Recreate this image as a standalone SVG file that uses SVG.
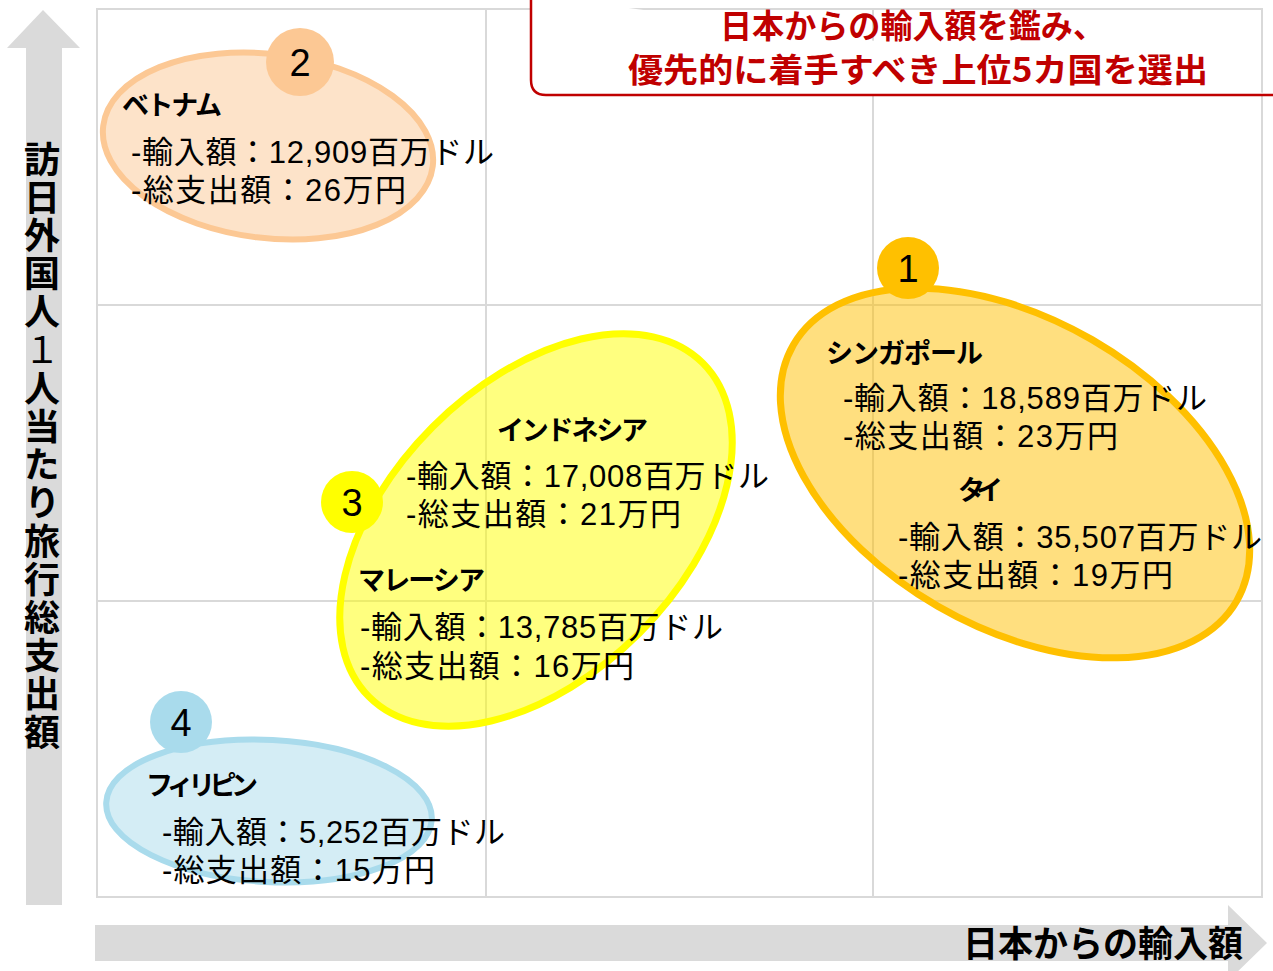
<svg xmlns="http://www.w3.org/2000/svg" width="1273" height="971" viewBox="0 0 1273 971">
<style>
.grid{fill:none;stroke:#d9d9d9;stroke-width:2}
.axis{fill:#dadada}
.jp{font-family:"Liberation Sans","Noto Sans CJK JP",sans-serif;fill:#000}
.ttl{font-family:"Noto Sans CJK JP",sans-serif;font-weight:bold;font-size:27px;fill:#000}
.ln{font-size:31px}
.num{font-family:"Liberation Sans","Noto Sans CJK JP",sans-serif;font-size:38px;fill:#000;text-anchor:middle}
.axl{font-family:"Noto Sans CJK JP",sans-serif;font-weight:bold;font-size:36px;fill:#000}
.head{font-family:"Noto Sans CJK JP",sans-serif;font-weight:bold;font-size:33px;fill:#c00000}
</style>
<rect width="1273" height="971" fill="#fff"/>
<g id="grid">
<rect class="grid" x="97" y="9" width="1165" height="888"/>
<line class="grid" x1="486" y1="9" x2="486" y2="897"/>
<line class="grid" x1="873" y1="9" x2="873" y2="897"/>
<line class="grid" x1="97" y1="305" x2="1262" y2="305"/>
<line class="grid" x1="97" y1="601" x2="1262" y2="601"/>
</g>
<g id="y-axis">
<path class="axis" d="M26 905 V48 H7 L43 10 L80 48 H62 V905 Z"/>
<text class="axl" x="42" y="141" writing-mode="tb" letter-spacing="2.2" style="writing-mode:vertical-rl">訪日外国人<tspan font-weight="normal">１</tspan>人当たり旅行総支出額</text>
</g>
<g id="x-axis">
<path class="axis" d="M95 925 H1228 V905 L1267 943 L1228 981 V961 H95 Z"/>
<text class="axl" x="963" y="957" textLength="280" lengthAdjust="spacingAndGlyphs">日本からの輸入額</text>
</g>
<g id="headline">
<path d="M531 -5 V80 Q531 95 546 95 H1280" fill="#fff" stroke="#c00000" stroke-width="2.5"/>
<text class="head" x="720" y="38" textLength="385" lengthAdjust="spacingAndGlyphs">日本からの輸入額を鑑み、</text>
<text class="head" x="628" y="82" textLength="580" lengthAdjust="spacingAndGlyphs">優先的に着手すべき上位5カ国を選出</text>
</g>
<g id="group-vietnam">
<ellipse cx="268" cy="146" rx="166" ry="92" transform="rotate(7 268 146)" fill="#fcc894" fill-opacity="0.5" stroke="#fcc894" stroke-width="6"/>
<text class="ttl" x="122" y="115" textLength="100">ベトナム</text>
<text class="jp ln" x="131" y="163" textLength="363">-輸入額：12,909百万ドル</text>
<text class="jp ln" x="131" y="201" textLength="275">-総支出額：26万円</text>
<circle cx="300" cy="62" r="34" fill="#fcc894"/>
<text class="num" x="300" y="76">2</text>
</g>
<g id="group-singapore-thai">
<ellipse cx="1015" cy="473" rx="256" ry="154" transform="rotate(30 1015 473)" fill="#ffc000" fill-opacity="0.5" stroke="#ffc000" stroke-width="7"/>
<text class="ttl" x="826" y="363" textLength="157">シンガポール</text>
<text class="jp ln" x="843" y="409" textLength="364">-輸入額：18,589百万ドル</text>
<text class="jp ln" x="843" y="447" textLength="275">-総支出額：23万円</text>
<text class="ttl" x="958" y="500" textLength="45">タイ</text>
<text class="jp ln" x="898" y="548" textLength="364">-輸入額：35,507百万ドル</text>
<text class="jp ln" x="898" y="586" textLength="275">-総支出額：19万円</text>
<circle cx="908" cy="268" r="31" fill="#ffc000"/>
<text class="num" x="908" y="282">1</text>
</g>
<g id="group-indonesia-malaysia">
<ellipse cx="536" cy="530" rx="236" ry="146" transform="rotate(-45 536 530)" fill="#ffff00" fill-opacity="0.5" stroke="#ffff00" stroke-width="7"/>
<text class="ttl" x="497" y="440" textLength="151">インドネシア</text>
<text class="jp ln" x="406" y="487" textLength="363">-輸入額：17,008百万ドル</text>
<text class="jp ln" x="406" y="525" textLength="275">-総支出額：21万円</text>
<text class="ttl" x="358" y="590" textLength="127">マレーシア</text>
<text class="jp ln" x="360" y="638" textLength="363">-輸入額：13,785百万ドル</text>
<text class="jp ln" x="360" y="677" textLength="274">-総支出額：16万円</text>
<circle cx="352" cy="502" r="31" fill="#ffff00"/>
<text class="num" x="352" y="516">3</text>
</g>
<g id="group-philippines">
<ellipse cx="269" cy="811" rx="163" ry="71" transform="rotate(3 269 811)" fill="#a9dbec" fill-opacity="0.5" stroke="#a9dbec" stroke-width="6"/>
<text class="ttl" x="146" y="795" textLength="112">フィリピン</text>
<text class="jp ln" x="162" y="843" textLength="343">-輸入額：5,252百万ドル</text>
<text class="jp ln" x="162" y="881" textLength="273">-総支出額：15万円</text>
<circle cx="181" cy="722" r="31" fill="#a9dbec"/>
<text class="num" x="181" y="736">4</text>
</g>
</svg>
